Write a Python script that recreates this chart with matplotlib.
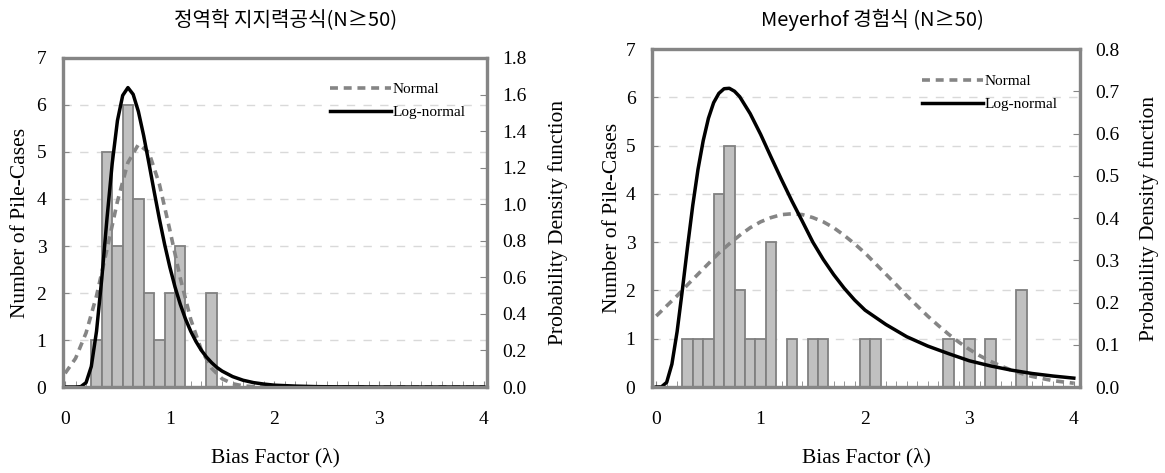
import numpy as np
import matplotlib
matplotlib.use("Agg")
import matplotlib.pyplot as plt
from matplotlib.ticker import MultipleLocator, FormatStrFormatter

plt.rcParams['font.family'] = ['Liberation Serif', 'DejaVu Serif']

# histogram bins (bias factor) and number of pile cases
left_bins = [0.3, 0.4, 0.5, 0.6, 0.7, 0.8, 0.9, 1.0, 1.1, 1.4]
left_counts = [1, 5, 3, 6, 4, 2, 1, 2, 3, 2]

right_bins = [0.3, 0.4, 0.5, 0.6, 0.7, 0.8, 0.9, 1.0, 1.1, 1.3, 1.5, 1.6,
              2.0, 2.1, 2.8, 3.0, 3.2, 3.5]
right_counts = [1, 1, 1, 4, 5, 2, 1, 1, 3, 1, 1, 1, 1, 1, 1, 1, 1, 2]

# fitted pdf curves
left_norm_x = [0, 0.1, 0.2, 0.3, 0.4, 0.5, 0.6, 0.7, 0.8, 0.9, 1.0, 1.1, 1.2,
               1.3, 1.4, 1.5, 1.6, 1.7, 1.8, 1.9, 2.0, 2.5, 3.0, 3.5, 4.0]
left_norm_y = [0.075, 0.157, 0.296, 0.499, 0.753, 1.016, 1.228, 1.327, 1.284,
               1.111, 0.860, 0.596, 0.370, 0.205, 0.102, 0.045, 0.018, 0.006,
               0.002, 0.001, 0, 0, 0, 0, 0]

left_logn_x = [0, 0.05, 0.1, 0.15, 0.2, 0.25, 0.3, 0.35, 0.4, 0.45, 0.5, 0.55,
               0.6, 0.65, 0.7, 0.75, 0.8, 0.85, 0.9, 0.95, 1.0, 1.05, 1.1,
               1.15, 1.2, 1.25, 1.3, 1.35, 1.4, 1.45, 1.5, 1.6, 1.7, 1.8, 1.9,
               2.0, 2.2, 2.4, 2.6, 2.8, 3.0, 3.5, 4.0]
left_logn_y = [0, 0, 0, 0.002, 0.024, 0.112, 0.305, 0.592, 0.922, 1.224, 1.458,
               1.595, 1.638, 1.601, 1.507, 1.376, 1.226, 1.071, 0.921, 0.782,
               0.657, 0.547, 0.453, 0.372, 0.305, 0.249, 0.202, 0.164, 0.133,
               0.107, 0.087, 0.057, 0.037, 0.024, 0.016, 0.010, 0.005, 0.002,
               0.001, 0.001, 0, 0, 0]

right_norm_x = [0, 0.1, 0.2, 0.3, 0.4, 0.5, 0.6, 0.7, 0.8, 0.9, 1.0, 1.1, 1.2,
                1.3, 1.4, 1.5, 1.6, 1.7, 1.8, 1.9, 2.0, 2.1, 2.2, 2.3, 2.4,
                2.5, 2.6, 2.7, 2.8, 2.9, 3.0, 3.1, 3.2, 3.3, 3.4, 3.5, 3.6,
                3.7, 3.8, 3.9, 4.0]
right_norm_y = [0.168, 0.192, 0.216, 0.242, 0.267, 0.292, 0.317, 0.339, 0.359,
                0.377, 0.391, 0.401, 0.408, 0.410, 0.408, 0.401, 0.391, 0.377,
                0.359, 0.339, 0.317, 0.292, 0.267, 0.242, 0.216, 0.192, 0.168,
                0.146, 0.125, 0.106, 0.089, 0.074, 0.061, 0.050, 0.040, 0.032,
                0.025, 0.020, 0.015, 0.012, 0.009]

right_logn_x = [0, 0.05, 0.1, 0.15, 0.2, 0.25, 0.3, 0.35, 0.4, 0.45, 0.5, 0.55,
                0.6, 0.65, 0.7, 0.75, 0.8, 0.9, 1.0, 1.1, 1.2, 1.3, 1.4, 1.5,
                1.6, 1.7, 1.8, 1.9, 2.0, 2.2, 2.4, 2.6, 2.8, 3.0, 3.2, 3.4,
                3.6, 3.8, 4.0]
right_logn_y = [0, 0.0003, 0.011, 0.054, 0.131, 0.229, 0.332, 0.430, 0.515,
                0.583, 0.636, 0.673, 0.695, 0.706, 0.707, 0.700, 0.687, 0.647,
                0.598, 0.544, 0.491, 0.440, 0.392, 0.343, 0.302, 0.266, 0.234,
                0.206, 0.182, 0.148, 0.119, 0.097, 0.079, 0.062, 0.050, 0.040,
                0.032, 0.026, 0.021]

titles = ['정역학 지지력공식(N≥50)', 'Meyerhof 경험식 (N≥50)']

GRAY = '#858585'


def panel(rect, xlim, bins, counts, nx, ny, lx, ly, ymax2, title, lab):
    ax = fig.add_axes(rect)
    ax.bar(bins, counts, width=0.1, color='#c0c0c0', edgecolor='#808080',
           linewidth=1.3, zorder=2)
    ax.set_xlim(xlim)
    ax.set_ylim(0, 7)
    ax.set_yticks(range(8))
    ax.set_xticks([0, 1, 2, 3, 4])
    ax.xaxis.set_minor_locator(MultipleLocator(0.1))
    ax.yaxis.grid(True, ls=(0, (6, 6)), color='#d9d9d9', lw=1)
    ax.set_axisbelow(True)
    ax.tick_params(axis='x', which='both', direction='in', length=4,
                   color=GRAY, labelsize=14, pad=17)
    ax.tick_params(axis='y', direction='in', length=4, color=GRAY,
                   labelsize=14, pad=12)

    ax2 = ax.twinx()
    ax2.plot(nx, ny, color='#858585', lw=2.6, ls=(0, (2.2, 1.6)),
             label='Normal')
    ax2.plot(lx, ly, color='black', lw=2.5, label='Log-normal')
    ax2.set_ylim(0, ymax2)
    ax2.yaxis.set_major_locator(MultipleLocator(0.2 if ymax2 > 1 else 0.1))
    ax2.yaxis.set_major_formatter(FormatStrFormatter('%.1f'))
    ax2.tick_params(axis='y', direction='in', length=5, color=GRAY,
                    labelsize=14, pad=11)
    for a in (ax, ax2):
        for s in a.spines.values():
            s.set_color(GRAY)
            s.set_linewidth(2.3)

    ax.set_ylabel('Number of Pile-Cases', fontsize=15.5)
    ax2.set_ylabel('Probability Density function', fontsize=15.5)
    ax.set_xlabel('Bias Factor (λ)', fontsize=15.5)
    ax.yaxis.set_label_coords(lab[0], 0.5)
    ax2.yaxis.set_label_coords(lab[1], 0.5)
    ax.xaxis.set_label_coords(0.5, lab[2])
    ax2.legend(loc='upper left', bbox_to_anchor=(0.63, lab[3]), frameon=False,
               fontsize=11, handlelength=4.0, handletextpad=0.1,
               labelspacing=0.6, borderpad=0, borderaxespad=0)
    return ax


fig = plt.figure(figsize=(11.65, 4.73), dpi=100)
panel([0.0541, 0.1818, 0.3639, 0.6956], (-0.02, 4.03), left_bins, left_counts,
      left_norm_x, left_norm_y, left_logn_x, left_logn_y, 1.8, titles[0],
      (-0.078, 1.144, -0.185, 0.925))
panel([0.5597, 0.1818, 0.3674, 0.7146], (-0.04, 4.06), right_bins, right_counts,
      right_norm_x, right_norm_y, right_logn_x, right_logn_y, 0.8, titles[1],
      (-0.07, 1.138, -0.18, 0.925))

fig.text(286 / 1165, 1 - 20 / 473, titles[0], fontsize=14.5, ha='center',
         va='center', family=['Noto Sans CJK KR', 'DejaVu Sans'])
fig.text(872 / 1165, 1 - 20 / 473, titles[1], fontsize=14.5, ha='center',
         va='center', family=['Noto Sans CJK KR', 'DejaVu Sans'])

fig.savefig('out.png', dpi=100)
